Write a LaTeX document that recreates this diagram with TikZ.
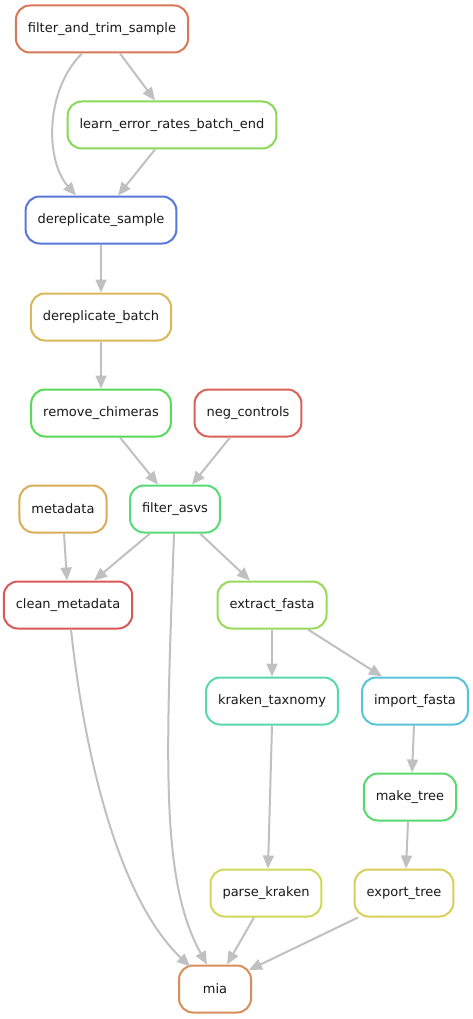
\documentclass[tikz,border=0pt]{standalone}
\usepackage{fontspec}
\setmainfont{DejaVu Sans}
\usetikzlibrary{arrows.meta}
\definecolor{cft}{RGB}{217,120,88}
\definecolor{cle}{RGB}{136,217,88}
\definecolor{cds}{RGB}{88,120,217}
\definecolor{cdb}{RGB}{217,184,88}
\definecolor{crc}{RGB}{88,217,88}
\definecolor{cnc}{RGB}{217,98,88}
\definecolor{cmd}{RGB}{217,173,88}
\definecolor{cfa}{RGB}{88,217,120}
\definecolor{ccm}{RGB}{217,88,88}
\definecolor{cef}{RGB}{152,217,88}
\definecolor{ckt}{RGB}{88,217,173}
\definecolor{cif}{RGB}{88,195,217}
\definecolor{cmt}{RGB}{88,217,109}
\definecolor{cpk}{RGB}{206,217,88}
\definecolor{cet}{RGB}{217,206,88}
\definecolor{cmia}{RGB}{217,141,88}
\definecolor{edgec}{RGB}{192,192,192}
\tikzset{
  rule/.style={draw=#1, line width=2pt, rounded corners=14pt, fill=white,
    minimum height=47pt, minimum width=72pt, inner xsep=12pt,
    font=\fontsize{13}{15}\selectfont, text=black!90},
  link/.style={draw=edgec, line width=2pt, -{Triangle[length=13pt,width=11pt]}}
}
\begin{document}
\begin{tikzpicture}[x=1pt,y=-1pt]
\useasboundingbox (0,0) rectangle (473,1019);
\node[rule=cft] (ft) at (102,29) {filter\_and\_trim\_sample};
\node[rule=cle] (le) at (172,125) {learn\_error\_rates\_batch\_end};
\node[rule=cds] (ds) at (101,220) {dereplicate\_sample};
\node[rule=cdb] (db) at (101,317) {dereplicate\_batch};
\node[rule=crc] (rc) at (101,413) {remove\_chimeras};
\node[rule=cnc] (nc) at (248,413) {neg\_controls};
\node[rule=cmd] (md) at (63,509) {metadata};
\node[rule=cfa] (fa) at (175,509) {filter\_asvs};
\node[rule=ccm] (cm) at (68,605) {clean\_metadata};
\node[rule=cef] (ef) at (272,605) {extract\_fasta};
\node[rule=ckt] (kt) at (272,701) {kraken\_taxnomy};
\node[rule=cif] (if) at (415,701) {import\_fasta};
\node[rule=cmt] (mt) at (410,797) {make\_tree};
\node[rule=cpk] (pk) at (266,893) {parse\_kraken};
\node[rule=cet] (et) at (404,893) {export\_tree};
\node[rule=cmia] (mia) at (215,989) {mia};

\draw[link] ([xshift=18pt]ft.south) -- ([xshift=-17pt]le.north);
\draw[link] ([xshift=-20pt]ft.south) .. controls (45,90) and (45,160) .. ([xshift=-25pt]ds.north);
\draw[link] ([xshift=-17pt]le.south) -- ([xshift=17pt]ds.north);
\draw[link] (ds.south) -- (db.north);
\draw[link] (db.south) -- (rc.north);
\draw[link] ([xshift=19pt]rc.south) -- ([xshift=-17pt]fa.north);
\draw[link] ([xshift=-18pt]nc.south) -- ([xshift=17pt]fa.north);
\draw[link] ([xshift=1pt]md.south) -- ([xshift=-1pt]cm.north);
\draw[link] ([xshift=-25pt]fa.south) -- ([xshift=26pt]cm.north);
\draw[link] ([xshift=25pt]fa.south) -- ([xshift=-22pt]ef.north);
\draw[link] ([xshift=-1pt]fa.south) .. controls (166,760) and (160,880) .. ([xshift=-8pt]mia.north);
\draw[link] ([xshift=3pt]cm.south) .. controls (85,760) and (120,900) .. ([xshift=-25pt,yshift=-2pt]mia.north);
\draw[link] (ef.south) -- (kt.north);
\draw[link] ([xshift=36pt]ef.south) -- ([xshift=-33pt]if.north);
\draw[link] (kt.south) -- ([xshift=2pt]pk.north);
\draw[link] ([xshift=-1pt]if.south) -- ([xshift=2pt]mt.north);
\draw[link] ([xshift=-2pt]mt.south) -- ([xshift=2pt]et.north);
\draw[link] ([xshift=-12pt]pk.south) -- ([xshift=12pt]mia.north);
\draw[link] ([xshift=-46pt]et.south) -- ([xshift=-3pt,yshift=19pt]mia.east);
\end{tikzpicture}
\end{document}
